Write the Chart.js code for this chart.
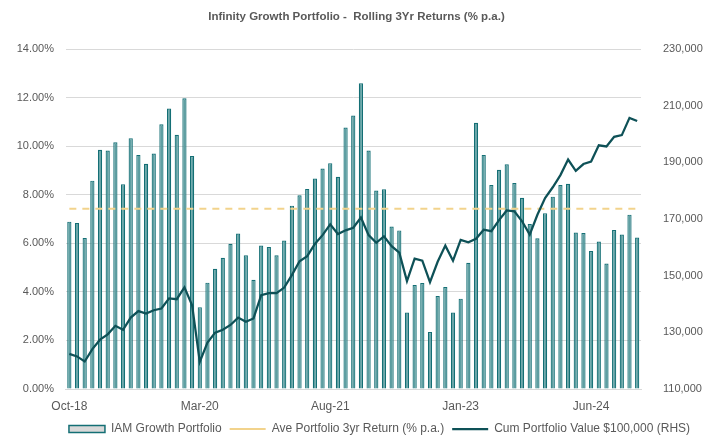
<!DOCTYPE html>
<html lang="en">
<head>
    <meta charset="UTF-8">
    <title>Infinity Growth Portfolio - Rolling 3Yr Returns</title>
    <style>
        body {
            margin: 0;
            background: #ffffff;
        }
        .chart-box {
            width: 713px;
            height: 438px;
        }
    </style>
    <script src="https://cdn.jsdelivr.net/npm/chart.js"></script>
</head>
<body>
    <div class="chart-box">
        <canvas id="returnsChart"></canvas>
    </div>
    <script>
        // Monthly categories, Oct-18 .. Dec-24
        const months = [
            'Oct-18', 'Nov-18', 'Dec-18',
            'Jan-19', 'Feb-19', 'Mar-19', 'Apr-19', 'May-19', 'Jun-19', 'Jul-19', 'Aug-19', 'Sep-19', 'Oct-19', 'Nov-19', 'Dec-19',
            'Jan-20', 'Feb-20', 'Mar-20', 'Apr-20', 'May-20', 'Jun-20', 'Jul-20', 'Aug-20', 'Sep-20', 'Oct-20', 'Nov-20', 'Dec-20',
            'Jan-21', 'Feb-21', 'Mar-21', 'Apr-21', 'May-21', 'Jun-21', 'Jul-21', 'Aug-21', 'Sep-21', 'Oct-21', 'Nov-21', 'Dec-21',
            'Jan-22', 'Feb-22', 'Mar-22', 'Apr-22', 'May-22', 'Jun-22', 'Jul-22', 'Aug-22', 'Sep-22', 'Oct-22', 'Nov-22', 'Dec-22',
            'Jan-23', 'Feb-23', 'Mar-23', 'Apr-23', 'May-23', 'Jun-23', 'Jul-23', 'Aug-23', 'Sep-23', 'Oct-23', 'Nov-23', 'Dec-23',
            'Jan-24', 'Feb-24', 'Mar-24', 'Apr-24', 'May-24', 'Jun-24', 'Jul-24', 'Aug-24', 'Sep-24', 'Oct-24', 'Nov-24', 'Dec-24'
        ];

        // Rolling 3yr return, % p.a. (left axis)
        const rolling3yr = [
            6.89, 6.84, 6.22, 8.58, 9.85, 9.82, 10.16, 8.43, 10.33, 9.64,
            9.27, 9.70, 10.90, 11.55, 10.47, 11.97, 9.59, 3.37, 4.38, 4.95,
            5.40, 5.98, 6.40, 5.51, 4.50, 5.91, 5.85, 5.51, 6.11, 7.55,
            7.98, 8.24, 8.67, 9.08, 9.30, 8.74, 10.77, 11.26, 12.59, 9.82,
            8.17, 8.22, 6.69, 6.53, 3.15, 4.28, 4.36, 2.35, 3.83, 4.20,
            3.15, 3.72, 5.20, 10.96, 9.64, 8.40, 9.03, 9.25, 8.48, 7.87,
            6.79, 6.21, 7.24, 7.92, 8.40, 8.45, 6.44, 6.42, 5.68, 6.07,
            5.17, 6.55, 6.36, 7.18, 6.24
        ];

        // Average 3yr return, % p.a.
        const aveReturn = 7.42;

        // Cumulative value of $100,000 (right axis)
        const cumValue = [
            122400, 121500, 119700, 124100, 127400, 129300, 132300, 130900, 135200, 137500,
            136600, 137800, 138400, 142000, 141700, 145900, 139500, 119600, 126400, 129900,
            130900, 132600, 135200, 133700, 134900, 143100, 143800, 143800, 145800, 150200,
            155100, 156900, 161200, 164300, 168100, 164700, 166000, 166900, 170500, 164300,
            161600, 163900, 160400, 158100, 148100, 156000, 155300, 147700, 154900, 160600,
            155300, 162600, 161800, 163000, 166200, 165700, 169600, 173000, 172700, 169200,
            164500, 171500, 177400, 181200, 185500, 191000, 187000, 189400, 190300, 196000,
            195600, 199000, 199600, 205700, 204600
        ];

        const labelEvery = 17;
        const textGrey = '#595959';
        const font = 'Liberation Sans, Arial, sans-serif';

        // nudge the legend sideways to where Excel put it
        const legendShift = {
            id: 'legendShift',
            afterLayout(chart) {
                const lg = chart.legend;
                lg.left += 23;
                lg.right += 23;
            }
        };

        new Chart(document.getElementById('returnsChart'), {
            data: {
                labels: months,
                datasets: [
                    {
                        type: 'bar',
                        label: 'IAM Growth Portfolio',
                        data: rolling3yr,
                        backgroundColor: '#5e9fa2',
                        borderColor: '#146f75',
                        borderWidth: 1.2,
                        barPercentage: 0.55,
                        categoryPercentage: 1,
                        yAxisID: 'y',
                        order: 3
                    },
                    {
                        type: 'line',
                        label: 'Ave Portfolio 3yr Return (% p.a.)',
                        data: months.map(() => aveReturn),
                        borderColor: '#f2d38c',
                        borderWidth: 2,
                        borderDash: [7, 6],
                        pointRadius: 0,
                        fill: false,
                        yAxisID: 'y',
                        order: 2
                    },
                    {
                        type: 'line',
                        label: 'Cum Portfolio Value $100,000 (RHS)',
                        data: cumValue,
                        borderColor: '#0e5157',
                        borderWidth: 2.25,
                        pointRadius: 0,
                        tension: 0,
                        fill: false,
                        yAxisID: 'y1',
                        order: 1
                    }
                ]
            },
            options: {
                responsive: true,
                maintainAspectRatio: false,
                animation: false,
                layout: { padding: { top: 0, left: 0, right: 0, bottom: -7 } },
                plugins: {
                    title: {
                        display: true,
                        text: 'Infinity Growth Portfolio -  Rolling 3Yr Returns (% p.a.)',
                        color: textGrey,
                        font: { family: font, size: 11.5, weight: 'bold', lineHeight: 1.2 },
                        padding: { top: 10.1, bottom: 25.1 }
                    },
                    legend: {
                        position: 'bottom',
                        labels: {
                            color: textGrey,
                            font: { family: font, size: 12 },
                            usePointStyle: true,
                            boxWidth: 36,
                            boxHeight: 7,
                            pointStyleWidth: 36,
                            padding: 8,
                            generateLabels(chart) {
                                const items = Chart.defaults.plugins.legend.labels.generateLabels(chart);
                                items.sort((a, b) => a.datasetIndex - b.datasetIndex);
                                items.forEach(it => {
                                    if (it.datasetIndex === 0) {
                                        it.pointStyle = 'rect';
                                        it.fillStyle = '#d9d9d9';
                                        it.lineWidth = 1.5;
                                    } else {
                                        it.pointStyle = 'line';
                                    }
                                });
                                return items;
                            }
                        }
                    },
                    tooltip: { enabled: false }
                },
                scales: {
                    x: {
                        offset: true,
                        grid: { display: false, drawTicks: false },
                        border: { display: true, color: '#d9d9d9' },
                        ticks: {
                            autoSkip: false,
                            maxRotation: 0,
                            padding: 10.5,
                            color: textGrey,
                            font: { family: font, size: 12 },
                            callback: (v, i) => (i % labelEvery === 0 ? months[i] : '')
                        },
                        afterFit: scale => { scale.height = 26; }
                    },
                    y: {
                        position: 'left',
                        min: 0,
                        max: 14,
                        grid: { color: '#d9d9d9', drawTicks: false },
                        border: { display: false },
                        ticks: {
                            stepSize: 2,
                            padding: 11.5,
                            color: textGrey,
                            font: { family: font, size: 11 },
                            callback: v => v.toFixed(2) + '%'
                        },
                        afterFit: scale => { scale.width = 65.5; }
                    },
                    y1: {
                        position: 'right',
                        min: 110000,
                        max: 230000,
                        grid: { display: false, drawTicks: false },
                        border: { display: false },
                        ticks: {
                            stepSize: 20000,
                            padding: 22,
                            color: textGrey,
                            font: { family: font, size: 11 },
                            callback: v => v.toLocaleString('en-US')
                        },
                        afterFit: scale => { scale.width = 72; }
                    }
                }
            },
            plugins: [legendShift]
        });
    </script>
</body>
</html>
